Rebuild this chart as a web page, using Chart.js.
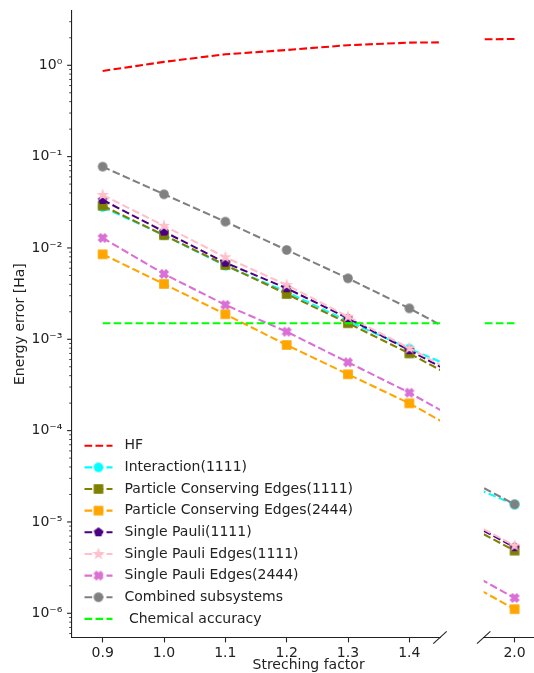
<!DOCTYPE html>
<html>
<head>
<meta charset="utf-8">
<title>Energy error vs streching factor</title>
<script src="https://cdn.jsdelivr.net/npm/chart.js@4.4.1/dist/chart.umd.min.js"></script>
<style>
  html, body { margin: 0; padding: 0; background: #fff; overflow: hidden; }
  #wrap { position: relative; width: 534px; height: 673px; overflow: hidden; }
  #leftChart { position: absolute; left: 0; top: 0; }
  #rightChart { position: absolute; left: 470px; top: 0; }
</style>
</head>
<body>
<div id="wrap">
  <canvas id="leftChart" width="460" height="673"></canvas>
  <canvas id="rightChart" width="100" height="673"></canvas>
</div>
<script>
// x positions (streching factor)
const xValues = [0.9, 1.0, 1.1, 1.2, 1.3, 1.4, 2.0];

// energy errors [Ha]
const hf = [0.867, 1.09, 1.32, 1.47, 1.66, 1.77, 1.94];
const interaction1111 = [0.028, 0.0138, 0.0064, 0.0033, 0.00158, 0.00079, 1.55e-5];
const pce1111 = [0.029, 0.0138, 0.0065, 0.00313, 0.0015, 0.0007, 4.85e-6];
const pce2444 = [0.00853, 0.00403, 0.00188, 0.000866, 0.000414, 0.000199, 1.11e-6];
const singlePauli1111 = [0.0335, 0.0151, 0.0069, 0.00362, 0.0017, 0.00076, 5.3e-6];
const singlePauliEdges1111 = [0.038, 0.0175, 0.0079, 0.00394, 0.00177, 0.0008, 5.5e-6];
const singlePauliEdges2444 = [0.01286, 0.00519, 0.00238, 0.00121, 0.00056, 0.00026, 1.47e-6];
const combined = [0.0776, 0.0387, 0.0194, 0.0095, 0.00465, 0.00218, 1.56e-5];
const chemicalAccuracy = 0.0015;

const seriesNames = [
  'HF',
  'Interaction(1111)',
  'Particle Conserving Edges(1111)',
  'Particle Conserving Edges(2444)',
  'Single Pauli(1111)',
  'Single Pauli Edges(1111)',
  'Single Pauli Edges(2444)',
  'Combined subsystems',
  ' Chemical accuracy'
];
const seriesColors = ['#ff0000', '#00ffff', '#808000', '#ffa500', '#4b0082', '#ffc0cb', '#da70d6', '#808080', '#00ff00'];
const seriesMarkers = [null, 'circle', 'square', 'square', 'pentagon', 'star', 'xfilled', 'circle', null];

// axis ticks
const xTicksLeft = [0.9, 1.0, 1.1, 1.2, 1.3, 1.4];
const xTicksRight = [2.0];
const yTickValues = [1e-6, 1e-5, 1e-4, 1e-3, 1e-2, 1e-1, 1];
const yTickLabels = ['10⁻⁶', '10⁻⁵', '10⁻⁴', '10⁻³', '10⁻²', '10⁻¹', '10⁰'];
const xTitle = 'Streching factor';
const yTitle = 'Energy error [Ha]';

const Y_MIN = 5.43e-7;
const Y_MAX = 3.96;
const INK = '#222';
const LINE_W = 2.08;
const DASH = [7.7, 3.3];

Chart.defaults.font.family = '"DejaVu Sans", sans-serif';
Chart.defaults.font.size = 14;
Chart.defaults.color = INK;

// build a marker image, same style as the matplotlib ones
function makeMarker(shape, color) {
  if (!shape) return null;
  const c = document.createElement('canvas');
  c.width = 14;
  c.height = 14;
  const g = c.getContext('2d');
  g.translate(7, 7);
  g.fillStyle = color;
  g.strokeStyle = color;
  g.lineWidth = 1.3;
  g.lineJoin = 'miter';
  const r = 4.17;
  g.beginPath();
  if (shape === 'circle') {
    g.arc(0, 0, r, 0, Math.PI * 2);
  } else if (shape === 'square') {
    g.rect(-r, -r, 2 * r, 2 * r);
  } else if (shape === 'pentagon') {
    for (let k = 0; k < 5; k++) {
      const a = -Math.PI / 2 + k * 2 * Math.PI / 5;
      g.lineTo(r * Math.cos(a), r * Math.sin(a));
    }
  } else if (shape === 'star') {
    for (let k = 0; k < 10; k++) {
      const a = -Math.PI / 2 + k * Math.PI / 5;
      const rr = k % 2 === 0 ? r * 1.1 : r * 1.1 * 0.381966;
      g.lineTo(rr * Math.cos(a), rr * Math.sin(a));
    }
  } else if (shape === 'xfilled') {
    const pts = [[-1, -2], [0, -1], [1, -2], [2, -1], [1, 0], [2, 1],
                 [1, 2], [0, 1], [-1, 2], [-2, 1], [-1, 0], [-2, -1]];
    pts.forEach(p => g.lineTo(p[0] * r / 2, p[1] * r / 2));
  }
  g.closePath();
  g.fill();
  g.stroke();
  return c;
}

const markerImages = seriesColors.map((col, i) => makeMarker(seriesMarkers[i], col));

function series(values) {
  return xValues.map((x, i) => ({ x: x, y: values[i] }));
}

function buildDatasets() {
  const all = [hf, interaction1111, pce1111, pce2444, singlePauli1111,
               singlePauliEdges1111, singlePauliEdges2444, combined,
               xValues.map(() => chemicalAccuracy)];
  return all.map((vals, i) => ({
    label: seriesNames[i],
    data: series(vals),
    borderColor: seriesColors[i],
    backgroundColor: seriesColors[i],
    borderWidth: LINE_W,
    borderDash: DASH,
    fill: false,
    tension: 0,
    pointStyle: markerImages[i] || 'circle',
    pointRadius: markerImages[i] ? 4.5 : 0,
    clip: 0,
    order: -i // later series on top, like matplotlib
  }));
}

function yTicks(scale) {
  const ticks = [];
  for (let e = -7; e <= 0; e++) {
    for (let m = 1; m <= 9; m++) {
      const v = m * Math.pow(10, e);
      if (v >= Y_MIN && v <= Y_MAX) ticks.push({ value: v, major: m === 1 });
    }
  }
  scale.ticks = ticks;
}

function yLabel(value) {
  const i = yTickValues.findIndex(v => Math.abs(Math.log10(v) - Math.log10(value)) < 1e-6);
  return i >= 0 ? yTickLabels[i] : '';
}

// no extra room for overhanging tick labels, so both panels share one chart area height
function noOverhang(s) {
  s.paddingTop = 0;
  s.paddingBottom = 0;
  s.paddingLeft = 0;
  s.paddingRight = 0;
}

// ticks on the log axis, axis break marks, legend and shared x title
const decor = {
  id: 'decor',
  afterDraw(chart, args, opts) {
    const ctx = chart.ctx;
    const a = chart.chartArea;
    ctx.save();
    ctx.strokeStyle = INK;

    if (opts.yTicks) {
      const ys = chart.scales.y;
      ys.ticks.forEach(t => {
        const py = ys.getPixelForValue(t.value);
        const len = t.major ? 4.9 : 2.8;
        ctx.lineWidth = t.major ? 1.1 : 0.85;
        ctx.beginPath();
        ctx.moveTo(a.left - len, py);
        ctx.lineTo(a.left, py);
        ctx.stroke();
      });
    }

    // diagonal break mark
    const bx = opts.breakSide === 'right' ? a.right : a.left;
    ctx.lineWidth = 1.1;
    ctx.beginPath();
    ctx.moveTo(bx - 6.7, a.bottom + 6.2);
    ctx.lineTo(bx + 6.7, a.bottom - 6.2);
    ctx.stroke();

    if (opts.legend) {
      const lx = a.left + 12.5;
      seriesNames.forEach((name, i) => {
        const y = a.bottom - 191.8 + i * 21.65;
        ctx.strokeStyle = seriesColors[i];
        ctx.lineWidth = LINE_W;
        ctx.setLineDash(DASH);
        ctx.beginPath();
        ctx.moveTo(lx, y);
        ctx.lineTo(lx + 28, y);
        ctx.stroke();
        ctx.setLineDash([]);
        const img = markerImages[i];
        if (img) ctx.drawImage(img, lx + 14 - img.width / 2, y - img.height / 2);
        ctx.fillStyle = INK;
        ctx.font = '14px "DejaVu Sans"';
        ctx.textBaseline = 'middle';
        ctx.textAlign = 'left';
        ctx.fillText(name, lx + 40, y);
      });
    }

    if (opts.xTitle) {
      ctx.fillStyle = INK;
      ctx.font = '14px "DejaVu Sans"';
      ctx.textBaseline = 'middle';
      ctx.textAlign = 'center';
      ctx.fillText(opts.xTitle.text, opts.xTitle.x, a.bottom + 27.5);
    }
    ctx.restore();
  }
};

function xAxis(min, max, tickList) {
  return {
    type: 'linear',
    min: min,
    max: max,
    afterBuildTicks: s => { s.ticks = tickList.map(v => ({ value: v })); },
    afterFit: s => { s.height = 35.5; noOverhang(s); },
    ticks: { callback: v => v.toFixed(1), autoSkip: false, maxRotation: 0, padding: 3, color: INK },
    grid: { drawOnChartArea: false, drawTicks: true, tickLength: 4.9, tickColor: INK, tickWidth: 1.1 },
    border: { display: true, color: INK, width: 1.1 }
  };
}

const common = {
  responsive: false,
  animation: false,
  events: [],
  plugins: { legend: { display: false }, tooltip: { enabled: false } }
};

new Chart(document.getElementById('leftChart'), {
  type: 'line',
  data: { datasets: buildDatasets() },
  options: Object.assign({}, common, {
    layout: { padding: { left: 0, right: 20, top: 10.7, bottom: 0 } },
    scales: {
      x: xAxis(0.85, 1.45, xTicksLeft),
      y: {
        type: 'logarithmic',
        min: Y_MIN,
        max: Y_MAX,
        afterBuildTicks: yTicks,
        afterFit: s => { s.width = 72; noOverhang(s); },
        ticks: { callback: yLabel, autoSkip: false, padding: 9.7, color: INK },
        grid: { display: false, drawTicks: false },
        border: { display: true, color: INK, width: 1.1 },
        title: { display: true, text: yTitle, color: INK, padding: { top: 12, bottom: 0 } }
      }
    },
    plugins: Object.assign({}, common.plugins, {
      decor: { yTicks: true, breakSide: 'right', legend: true, xTitle: { text: xTitle, x: 308.6 } }
    })
  }),
  plugins: [decor]
});

new Chart(document.getElementById('rightChart'), {
  type: 'line',
  data: { datasets: buildDatasets() },
  options: Object.assign({}, common, {
    layout: { padding: { left: 13.7, right: 24.5, top: 10.7, bottom: 0 } },
    scales: {
      x: xAxis(1.95, 2.05, xTicksRight),
      y: { type: 'logarithmic', min: Y_MIN, max: Y_MAX, display: false }
    },
    plugins: Object.assign({}, common.plugins, {
      decor: { yTicks: false, breakSide: 'left', legend: false }
    })
  }),
  plugins: [decor]
});
</script>
</body>
</html>
